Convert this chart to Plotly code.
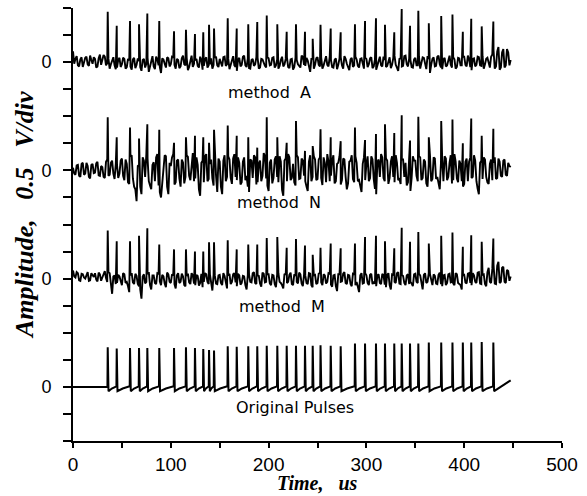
import plotly.graph_objects as go

# ---------------- data ----------------
# pulse arrival times (us), shared by all traces
pulse_t = [35.5, 44.7, 58.3, 67.5, 76.0, 88.2, 103.3, 115.5, 124.7, 133.2,
           139.1, 144.2, 158.2, 167.4, 179.2, 188.4, 198.1, 208.9, 218.5, 228.0,
           237.2, 245.1, 253.1, 263.5, 273.7, 288.3, 298.6, 309.8, 319.0, 328.5,
           336.1, 344.6, 353.1, 363.8, 376.5, 388.0, 398.6, 407.2, 417.9, 429.8]

# pulse heights (V) per trace
orig_h = [0.73, 0.71, 0.72, 0.72, 0.72, 0.72, 0.72, 0.73, 0.72, 0.70,
          0.68, 0.67, 0.75, 0.74, 0.75, 0.75, 0.76, 0.76, 0.76, 0.76,
          0.76, 0.76, 0.77, 0.76, 0.75, 0.80, 0.80, 0.80, 0.80, 0.80,
          0.80, 0.80, 0.80, 0.82, 0.82, 0.82, 0.82, 0.82, 0.83, 0.82]
a_h = [0.93, 0.67, 0.76, 0.70, 0.90, 0.76, 0.57, 0.60, 0.52, 0.55,
       0.69, 0.62, 0.81, 0.62, 0.70, 0.74, 0.86, 0.70, 0.56, 0.70,
       0.56, 0.43, 0.69, 0.62, 0.55, 0.70, 0.76, 0.81, 0.69, 0.55,
       0.98, 0.67, 0.95, 0.72, 0.85, 0.88, 0.56, 0.80, 0.66, 0.75]
n_h = [0.98, 0.61, 0.79, 0.59, 0.85, 0.75, 0.51, 0.61, 0.64, 0.61,
       0.51, 0.75, 0.83, 0.64, 0.61, 0.42, 0.98, 0.61, 0.51, 0.91,
       0.36, 0.45, 0.76, 0.61, 0.54, 0.79, 0.56, 0.67, 0.85, 0.69,
       1.02, 0.55, 0.99, 0.61, 0.91, 0.94, 0.50, 0.96, 0.64, 0.77]
m_h = [0.89, 0.69, 0.69, 0.79, 0.93, 0.63, 0.54, 0.54, 0.50, 0.50,
       0.67, 0.67, 0.71, 0.54, 0.63, 0.63, 0.75, 0.77, 0.57, 0.73,
       0.61, 0.44, 0.57, 0.65, 0.56, 0.65, 0.77, 0.79, 0.69, 0.56,
       0.94, 0.68, 0.86, 0.65, 0.79, 0.85, 0.59, 0.80, 0.68, 0.74]

# background noise of the reconstructed traces, in 0.01 V
# *_noise sampled at t = 0, 2.5, 5, ...; *_noise2 at the midpoints t = 1.25, 3.75, ...
noise_step = 2.5
a_noise = [20, 6, -6, 5, -9, 8, -4, 12, -3, 6, -8, 14, 4, 10, -2, -12, 5, -6, -10, 8,
           -4, 6, -9, 3, -14, 8, -5, 2, -16, 6, -3, -18, 4, -8, 10, -6, -20, 5, -10, 7,
           -4, 9, -12, 4, -8, 12, -6, -15, 6, -9, 3, -7, 10, -14, 5, -10, -4, -12, 8, -6,
           6, -8, 10, -4, -13, 5, -6, -16, 8, -5, 12, -9, -11, 4, -7, 9, -12, 6, -3, -10,
           7, -5, 9, -6, -12, 4, -8, 6, -9, 5, -14, 8, -4, -10, 10, -7, 3, -18, 6, -5,
           9, -8, -12, 6, -5, 10, -9, 4, -13, 7, -6, 11, -3, -15, 8, -6, 5, -10, 7, -12,
           6, -4, 9, -8, -14, 5, -6, 10, -9, 4, -11, 8, -5, -16, 7, -7, 12, -8, 4, -10,
           8, -6, -12, 9, -5, 11, -20, 6, -8, 10, -4, -13, 8, -6, 12, -10, 5, -9, 7, -6,
           10, -8, 5, -15, 7, -5, 9, -7, -12, 6, -4, 10, 22, -8, 28, -10, 24, -6, 18, 4]
a_noise2 = [-3, 11, -8, 9, -2, 10, -7, 4, 9, -10, 7, -5, 13, -6, 6, -4, 9, -13, 4, -9,
            8, -12, 6, -8, 5, -11, 7, -9, 4, -10, 8, -6, 11, -13, 5, -9, 7, -3, 9, -8,
            10, -5, 6, -11, 7, -4, 8, -9, 12, -3, 6, -10, 4, -7, 9, -6, 7, -5, 10, -9,
            -4, 9, -7, 6, -5, 11, -9, 4, -8, 10, -6, 7, -12, 6, -4, 8, -10, 5, -7, 9,
            -6, 8, -10, 5, -7, 10, -4, 9, -11, 6, -9, 4, -7, 12, -5, 8, -8, 6, -12, 7,
            -5, 9, -6, 11, -8, 4, -10, 7, -5, 9, -12, 6, -8, 5, -9, 10, -7, 6, -4, 8,
            -9, 7, -11, 5, -6, 10, -8, 4, -7, 9, -5, 12, -10, 6, -8, 11, -4, 7, -9, 5,
            -6, 10, -4, 8, -13, 6, -5, 9, -7, 12, -10, 5, -8, 7, -5, 9, -12, 8, -6, 10,
            -5, 12, -9, 6, -8, 10, -6, 11, -4, 8, -10, 14, -12, 20, -14, 18, -10, 24, -6]
n_noise = [5, -8, 10, -12, 14, -6, 8, -15, 12, -4, 16, -10, 6, -14, 20, -8, 18, -16, 10, -6,
           22, -18, 12, -25, 28, -30, -57, 10, -44, 18, 30, -20, -35, 15, 24, -28, -50, 12, 26, -44,
           8, 30, -22, 20, -30, 14, -12, 25, -18, 32, -15, 10, -47, 18, 26, -20, 12, -15, 22, -40,
           16, -44, 28, -12, 20, -25, 30, -18, 14, -22, 24, -10, -40, 18, 28, -26, 12, -20, 32, -15,
           -38, 20, -14, 26, -22, 16, -47, 22, 30, -18, 12, -28, 24, -15, 18, -20, -38, 28, -12, 20,
           -16, 24, -27, 14, 30, -20, 18, -24, 12, 26, -18, 20, -35, 16, 28, -22, 14, -18, -40, 24,
           12, -20, 26, -16, -44, 20, 30, -14, 22, -25, 16, -12, 28, -18, -25, 20, 14, -22, -38, 26,
           18, -20, 24, -14, 16, -30, 28, -16, 22, -12, -35, 20, 26, -18, 14, -24, 30, -15, 18, -20,
           -25, 22, 16, -14, 28, -20, -44, 18, 24, -12, -25, 20, 14, -16, 22, -10, 18, -8, 14, 6]
n_noise2 = [-6, 9, -10, 12, -8, 14, -12, 10, -5, 13, -9, 8, -12, 16, -10, 14, -6, 12, -14, 18,
            -10, 20, -22, 26, -15, -35, 8, -30, 24, -12, 22, -28, 10, -20, 30, -40, -22, 28, -30, 14,
            24, -26, 18, -15, 20, -24, 28, -10, 16, -20, 24, -35, 14, -22, 30, -16, 20, -28, -10, 22,
            -30, 18, -20, 26, -14, 22, -12, 24, -26, 16, -18, -30, 20, -14, 24, -22, 18, -10, 26, -28,
            14, -24, 20, -12, 26, -36, 18, -20, 24, -14, -22, 28, -16, 22, -10, -30, 16, -20, 26, -18,
            20, -14, 24, -22, 16, -10, 28, -20, 14, -26, 22, -12, -24, 18, -16, 26, -20, -30, 12, -18,
            26, -14, 20, -34, 16, -12, 24, -20, 18, -14, 26, -22, 14, -16, 20, -12, -28, 22, -14, 18,
            -10, 26, -18, 20, -24, 12, -20, 24, -16, -28, 14, -20, 22, -12, 28, -18, 16, -22, 12, -30,
            16, -20, 24, -12, 18, -34, 14, -16, 20, -22, 12, -18, 24, -14, 16, -12, 20, -10, 8]
m_noise = [15, 2, 10, -4, 8, 0, 12, -3, 6, 10, -5, 8, 2, 14, -6, 10, -28, 6, -8, 4,
           -12, 8, -6, -25, 10, -10, 5, -14, -37, 8, -6, 12, -20, 6, -10, 9, -12, 4, -16, 8,
           -8, 6, -18, 10, -6, 4, -14, 9, -10, 6, -12, 5, -8, -16, 10, -6, 8, -22, 6, -10,
           7, -12, 5, -18, 9, -6, 10, -14, 6, -8, 4, -20, 8, -7, 12, -10, 5, -15, 9, -6,
           8, -12, 6, -16, 10, -8, -18, 7, -6, 11, -12, 5, -9, 8, -14, 6, -10, 9, -16, 7,
           -8, 10, -12, 6, -6, 9, -15, 7, -23, 8, -5, 12, -10, 6, -14, 8, -6, -25, 10, -8,
           6, -12, 9, -7, -14, 8, -10, 6, -16, 10, -20, 7, -8, 12, -10, 5, -12, 8, -6, -14,
           9, -8, 6, -20, 10, -6, 8, -12, 5, -10, 11, -14, 7, -8, 9, -6, -12, 8, -10, -20,
           7, -9, 10, -12, 6, -8, 12, -10, 8, -14, 20, -8, 26, -10, 31, -6, 22, -8, 14, 4]
m_noise2 = [4, 12, -3, 9, 2, 8, -4, 10, 3, -2, 11, -4, 9, 1, 12, -15, 4, -10, 7, -6,
            10, -8, -14, 6, -7, 9, -10, -20, 4, -9, 8, -12, 6, -8, 10, -5, 7, -9, 11, -6,
            8, -10, 6, -8, 9, -12, 5, -7, 10, -9, 7, -13, 9, -6, 8, -10, -12, 7, -9, 6,
            -8, 10, -9, 6, -10, 8, -7, 9, -11, 5, -12, 7, -6, 10, -8, 6, -9, 11, -7, 8,
            -9, 7, -10, 8, -6, -12, 9, -8, 7, -10, 8, -6, 11, -9, 7, -8, 10, -12, 6, -10,
            9, -7, 8, -9, 10, -11, 6, -14, 8, -6, 9, -8, 7, -10, 9, -12, -15, 6, -9, 10,
            -8, 7, -10, -9, 6, -8, 9, -11, 7, -12, 8, -6, 10, -9, 7, -8, 6, -10, -9, 8,
            -6, 9, -12, 7, -8, 10, -6, 8, -9, 7, -10, 6, -12, 8, -7, -9, 10, -8, -12, 6,
            -7, 9, -8, 10, -6, 11, -9, 7, -10, 12, -6, 18, -9, 24, -8, 20, -6, 16, -4]

# original pulse train baseline levels (V)
orig_end_t = 447.5
orig_dip = -0.08
orig_mid = -0.03
orig_pre = 0.01
orig_end_level = 0.12

# vertical offsets of the traces (V) and their captions
trace_names = ["method  A", "method  N", "method  M", "Original Pulses"]
trace_offsets = [6, 4, 2, 0]
label_t = [201, 211, 214, 226.5]
label_v = [-0.56, -0.60, -0.52, -0.39]

y_tick_vals = [-1 + 0.5 * k for k in range(17)]
y_tick_text = ["0" if v in (0, 2, 4, 6) else "" for v in y_tick_vals]
x_tick_vals = [0, 50, 100, 150, 200, 250, 300, 350, 400, 450, 500]
x_tick_text = ["0", "", "100", "", "200", "", "300", "", "400", "", "500"]


def noisy_trace(noise, noise2, heights, off):
    pts = [(i * noise_step, v / 100.0) for i, v in enumerate(noise)]
    pts += [((i + 0.5) * noise_step, v / 100.0) for i, v in enumerate(noise2)]
    pts += list(zip(pulse_t, heights))
    pts.sort()
    return [p[0] for p in pts], [p[1] + off for p in pts]


def original_trace(off):
    xs, ys = [0.0], [0.0]
    prev = 0.0
    for k, (t, h) in enumerate(zip(pulse_t, orig_h)):
        xs += [t - 0.3, t, t + 0.8]
        ys += [prev, h, orig_dip]
        if k + 1 < len(pulse_t):
            nxt = pulse_t[k + 1]
            xs.append(t + 0.45 * (nxt - t))
            ys.append(orig_mid)
            prev = orig_pre
        else:
            xs.append(orig_end_t)
            ys.append(orig_end_level)
    return xs, [y + off for y in ys]


fig = go.Figure()
for noise, noise2, hts, off in [(a_noise, a_noise2, a_h, trace_offsets[0]),
                                (n_noise, n_noise2, n_h, trace_offsets[1]),
                                (m_noise, m_noise2, m_h, trace_offsets[2])]:
    x, y = noisy_trace(noise, noise2, hts, off)
    fig.add_trace(go.Scatter(x=x, y=y, mode="lines",
                             line=dict(color="black", width=1.9), hoverinfo="skip"))
x, y = original_trace(trace_offsets[3])
fig.add_trace(go.Scatter(x=x, y=y, mode="lines", line=dict(color="black", width=2),
                         hoverinfo="skip"))

for name, off, lt, lv in zip(trace_names, trace_offsets, label_t, label_v):
    fig.add_annotation(x=lt, y=off + lv, text=name, showarrow=False,
                       font=dict(family="DejaVu Sans", size=16, color="black"),
                       xanchor="center", yanchor="middle")

fig.add_annotation(xref="paper", yref="paper", x=0, y=0.522, xshift=-48,
                   text="<b><i>Amplitude,   0.5   V/div</i></b>", textangle=-90,
                   showarrow=False, xanchor="center", yanchor="middle",
                   font=dict(family="Liberation Serif", size=26, color="black"))
fig.add_annotation(xref="paper", yref="paper", x=0.5, y=0, yshift=-42,
                   text="<b><i>Time,   us</i></b>", showarrow=False,
                   xanchor="center", yanchor="middle",
                   font=dict(family="Liberation Serif", size=20, color="black"))

fig.update_layout(
    width=587, height=496,
    margin=dict(l=73, r=25, t=8, b=55),
    paper_bgcolor="white", plot_bgcolor="white",
    showlegend=False,
    xaxis=dict(range=[0, 500], tickvals=x_tick_vals, ticktext=x_tick_text,
               ticks="outside", ticklen=5, tickwidth=1.5, tickcolor="black",
               showline=True, linecolor="black", linewidth=2, showgrid=False,
               zeroline=False, ticklabelstandoff=0,
               tickfont=dict(family="Liberation Sans", size=19, color="black")),
    yaxis=dict(range=[-1, 7], tickvals=y_tick_vals, ticktext=y_tick_text,
               ticks="outside", ticklen=8, tickwidth=1.5, tickcolor="black",
               showline=True, linecolor="black", linewidth=2, showgrid=False,
               zeroline=False, ticklabelstandoff=8,
               tickfont=dict(family="Liberation Sans", size=18, color="black")),
)

fig.write_html("out.html", config={"displayModeBar": False},
               post_script="document.body.style.margin='0px';")
